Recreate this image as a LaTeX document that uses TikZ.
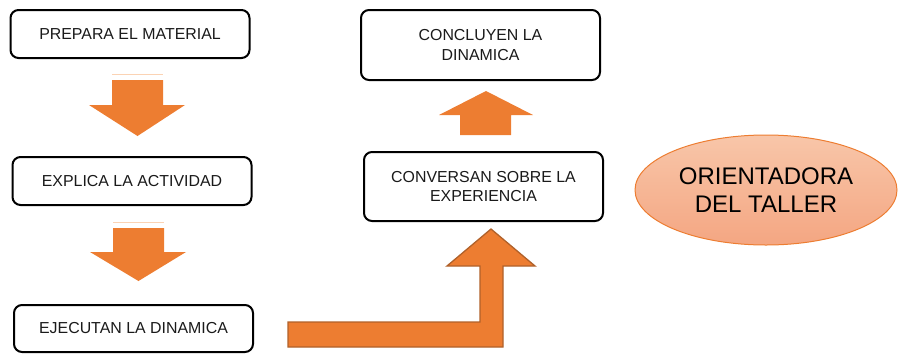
\documentclass[tikz,border=0pt]{standalone}
\usepackage{fontspec}
\setmainfont{Liberation Sans}
\usetikzlibrary{shapes.geometric}
\definecolor{arrowor}{HTML}{ED7D31}
\definecolor{arrowedge}{HTML}{B0612A}
\definecolor{paleor}{HTML}{FBD3B4}
\definecolor{elltop}{HTML}{F8C6A9}
\definecolor{ellbot}{HTML}{F4A682}
\definecolor{txt}{HTML}{1A1A1A}
\tikzset{
  box/.style={draw=black, line width=2pt, rounded corners=8pt, minimum width=239pt,
    inner sep=0pt, align=center, text=txt, font=\fontsize{15.9}{19.5}\selectfont},
  blockarrow/.style={fill=arrowor, draw=none},
  paleline/.style={draw=paleor, line width=1pt},
}
\begin{document}
\begin{tikzpicture}[x=1pt,y=-1pt]
\useasboundingbox (0,0) rectangle (900,354);
% boxes
\node[box, minimum height=48pt] (prep) at (130,34) {PREPARA EL MATERIAL};
\node[box, minimum height=48pt] (expl) at (132,181) {EXPLICA LA ACTIVIDAD};
\node[box, minimum height=47pt] (ejec) at (133.5,328.5) {EJECUTAN LA DINAMICA};
\node[box, minimum height=70pt] (concl) at (480.5,45) {CONCLUYEN LA\\DINAMICA};
\node[box, minimum height=69pt] (conv) at (483.5,186.5) {CONVERSAN SOBRE LA\\EXPERIENCIA};
% ellipse
\node[ellipse, minimum width=262pt, minimum height=110pt, draw=arrowor, line width=1pt,
  top color=elltop, bottom color=ellbot, text=black, align=center,
  font=\fontsize{24}{28}\selectfont] (orient) at (766,190) {ORIENTADORA\\DEL TALLER};
% down arrow 1
\draw[paleline] (112,74.5) -- (163,74.5);
\fill[blockarrow] (112,80) -- (163,80) -- (163,105) -- (185,105) -- (137.5,136)
  -- (89,105) -- (112,105) -- cycle;
% down arrow 2
\draw[paleline] (113,222.5) -- (164,222.5);
\fill[blockarrow] (113,228) -- (164,228) -- (164,252) -- (186,252) -- (138.5,281)
  -- (90,252) -- (113,252) -- cycle;
% up arrow
\fill[blockarrow] (460,135) -- (511,135) -- (511,115) -- (533,115) -- (486,91)
  -- (439,115) -- (460,115) -- cycle;
% bent arrow
\filldraw[fill=arrowor, draw=arrowedge, line width=1.3pt]
  (288,322) -- (480,322) -- (480,266) -- (447,266) -- (491,229) -- (535,266)
  -- (503,266) -- (503,347) -- (288,347) -- cycle;
\end{tikzpicture}
\end{document}
